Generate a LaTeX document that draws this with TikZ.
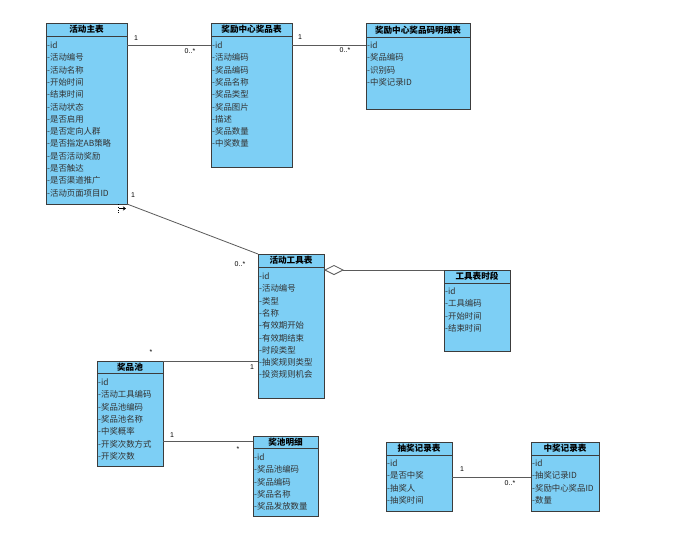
\documentclass[tikz,border=0pt]{standalone}
\usepackage{fontspec}
\setmainfont{Noto Sans CJK SC}
\newfontfamily\labfont{Liberation Sans}
\usetikzlibrary{arrows.meta}
\definecolor{boxfill}{RGB}{125,207,245}
\definecolor{boxline}{RGB}{60,60,60}
\definecolor{connline}{RGB}{90,90,90}
\tikzset{
  umlbox/.style={draw=boxline, line width=0.9pt, fill=boxfill, anchor=north west, inner sep=0pt, outer sep=0pt},
  titlest/.style={font=\fontsize{8.6}{10}\selectfont\bfseries, text=black, inner sep=0pt},
  rowst/.style={anchor=base west, font=\fontsize{8.4}{10}\selectfont, text=black!80, inner sep=0pt},
  conn/.style={draw=connline, line width=0.8pt},
  mult/.style={font=\labfont\fontsize{7}{8}\selectfont, text=black, inner sep=0pt}
}
% name, x1, y1, width, height, separator y, title, rows, first baseline
\newcommand{\umlclass}[9]{%
  \node[umlbox, minimum width=#4pt, minimum height=#5pt] (#1) at (#2,#3) {};
  \node[titlest] (#1-t) at ({#2+#4/2},{(#3+#6)/2}) {#7};
  \draw[boxline, line width=0.9pt] (#1.west |- 0,#6) -- (#1.east |- 0,#6);
  \foreach \t [count=\i from 0] in {#8} {
    \node[rowst] (#1-r\i) at ({#2+1},{#9+12.3*\i}) {\t};
  }
}
\begin{document}
\begin{tikzpicture}[x=1pt,y=-1pt]
\useasboundingbox (0,0) rectangle (689,542);
\fill[white] (0,0) rectangle (689,542);

\umlclass{main}{46}{23}{81}{181}{36}{活动主表}{-id,-活动编号,-活动名称,-开始时间,-结束时间,-活动状态,-是否启用,-是否定向人群,-是否指定AB策略,-是否活动奖励,-是否触达,-是否渠道推广,-活动页面项目ID}{48.5}
\umlclass{prize}{211}{23}{81}{144}{36}{奖励中心奖品表}{-id,-活动编码,-奖品编码,-奖品名称,-奖品类型,-奖品图片,-描述,-奖品数量,-中奖数量}{48.5}
\umlclass{code}{366}{23}{104}{86}{37}{奖励中心奖品码明细表}{-id,-奖品编码,-识别码,-中奖记录ID}{48.5}
\umlclass{tool}{258}{254}{66}{144}{267}{活动工具表}{-id,-活动编号,-类型,-名称,-有效期开始,-有效期结束,-时段类型,-抽奖规则类型,-投资规则机会}{279.5}
\umlclass{seg}{444}{270}{66}{81}{283}{工具表时段}{-id,-工具编码,-开始时间,-结束时间}{294.5}
\umlclass{pool}{97}{361}{66}{105}{373}{奖品池}{-id,-活动工具编码,-奖品池编码,-奖品池名称,-中奖概率,-开奖次数方式,-开奖次数}{385.5}
\umlclass{pdet}{253}{436}{65}{80}{448}{奖池明细}{-id,-奖品池编码,-奖品编码,-奖品名称,-奖品发放数量}{460.5}
\umlclass{draw}{386}{442}{66}{69}{455}{抽奖记录表}{-id,-是否中奖,-抽奖人,-抽奖时间}{466.5}
\umlclass{win}{531}{442}{68}{69}{455}{中奖记录表}{-id,-抽奖记录ID,-奖励中心奖品ID,-数量}{466.5}

% connectors
\draw[conn] (main.east |- 0,45) -- (prize.west |- 0,45);
\node[mult] (m1a) at (136,38) {1};
\node[mult] (m1b) at (190,51) {0..*};
\draw[conn] (prize.east |- 0,45) -- (code.west |- 0,45);
\node[mult] (m2a) at (300,37) {1};
\node[mult] (m2b) at (345,50) {0..*};
\draw[conn] (main.south east) -- (tool.north west);
\node[mult] (m3a) at (133,195) {1};
\node[mult] (m3b) at (240,264) {0..*};
\draw[conn, {Diamond[open, length=20pt, width=10pt, line width=0.8pt]}-] (tool.east |- seg.north) -- (seg.north west);
\draw[conn] (pool.north east) -- (tool.west |- pool.north);
\node[mult] (m4a) at (151,352) {*};
\node[mult] (m4b) at (252,367) {1};
\draw[conn] (pool.east |- 0,441) -- (pdet.west |- 0,441);
\node[mult] (m5a) at (172,435) {1};
\node[mult] (m5b) at (238,449) {*};
\draw[conn] (draw.east |- 0,477) -- (win.west |- 0,477);
\node[mult] (m6a) at (462,469) {1};
\node[mult] (m6b) at (510,483) {0..*};

% cursor artifact
\draw[black, line width=0.8pt, dotted] (118,204) -- (118,213);
\draw[black, line width=0.9pt, -{Stealth[length=3pt,width=4pt]}] (118.5,208.5) -- (126,208.5);
\end{tikzpicture}
\end{document}
